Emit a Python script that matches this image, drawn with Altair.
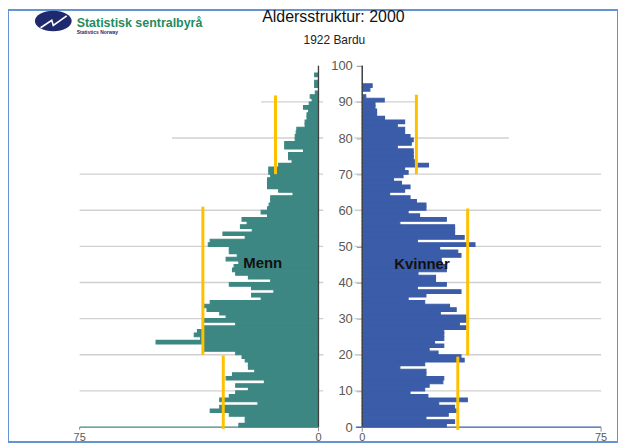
import altair as alt
import pandas as pd

# ---------------- data ----------------
AGES = list(range(100))
MEN = [25, 23, 23, 28, 34, 31, 19, 31, 28, 26,
       22, 26, 17, 29, 27, 20, 22, 22, 23, 24,
       26, 36, 36, 51, 37, 39, 38, 36, 26, 36,
       29, 31, 35, 36, 34, 18, 21, 14, 21, 28,
       15, 22, 26, 27, 26.5, 25, 29, 25.5, 28, 28,
       34.6, 34, 23, 30, 20.8, 24.5, 22.4, 24, 16, 18,
       16, 15.5, 15, 15, 8, 12.5, 16, 16, 16, 15,
       15.6, 15.6, 12.5, 8.3, 9.4, 9.4, 4.7, 10.6, 10.6, 7.3,
       7.3, 7, 6.8, 4.2, 4.2, 3.6, 3.6, 3.1, 4.7, 2.9,
       2, 2.6, 1.0, 0, 1.2, 1.2, 0, 1.2, 0, 0]
WOMEN = [26.4, 29, 20, 27, 29.5, 29, 24, 33, 20.6, 15,
         19.6, 21, 25.3, 25.6, 20, 20, 11.8, 19.6, 32, 31,
         23.8, 21, 25.6, 22.7, 25.6, 25.6, 25.6, 32.6, 30.5, 32.6,
         32.6, 24.5, 29.5, 27.4, 19.6, 14.4, 20, 31, 17.3, 26.4,
         23, 23, 17.5, 26.4, 26, 24.8, 24.8, 31, 30, 24.3,
         35.4, 17.3, 32, 29, 29, 29, 11.8, 26.4, 18, 14.4,
         20, 20, 17, 15, 8.6, 13.3, 15, 12.3, 9.8, 12.8,
         14.4, 13.3, 20.8, 16.5, 16, 16, 16, 11, 15.4, 16,
         15, 13.3, 13.3, 11, 13.3, 7, 4.5, 4.5, 4, 4,
         6.9, 1.1, 0, 2.4, 3.1, 0, 0, 0, 0, 0]

GRID_AGES = [10, 20, 30, 40, 50, 60, 70, 80, 90]
GRID_MEN = [75, 75, 75, 75, 75, 75, 75, 46, 18]
GRID_WOMEN = [75, 75, 75, 75, 75, 75, 75, 46, 17.5]

YEL_SIDE = ["Menn", "Menn", "Menn", "Kvinner", "Kvinner", "Kvinner"]
YEL_VALUE = [29.9, 36.3, 13.5, 30.0, 33.1, 17.0]
YEL_FROM = [-0.5, 20, 70, -0.8, 19.8, 70]
YEL_TO = [19.8, 61, 91.8, 19.5, 60.5, 92]

Y_TICKS = list(range(0, 101, 10))
X_END = 75
SIDES = ["Menn", "Kvinner"]
SIDE_LABEL_VALUE = [17.5, 18.75]
SIDE_LABEL_AGE = [45.3, 45.2]

TITLE = "Aldersstruktur: 2000"
SUBTITLE = "1922 Bardu"

# ---------------- layout helpers ----------------
G = 6.875  # half gap between the two panels (data units)
SIGN = {"Menn": -1, "Kvinner": 1}
MEN_COL = "#3d8783"
WOMEN_COL = "#3b5ca8"
YELLOW = "#ffc000"
FONT = "Liberation Sans"

xs = alt.Scale(domain=[-104.375, 87.1875], nice=False, zero=False)
ys = alt.Scale(domain=[-4.13, 115.43], nice=False, zero=False)

YAX = alt.Axis(orient="left", offset=-356, values=Y_TICKS, domain=False, grid=False,
               ticks=True, tickSize=6, tickColor="#8c8c8c", tickWidth=1,
               labelPadding=4, labelFontSize=13, labelColor="#595959",
               labelFont=FONT, title=None)

def X(f):
    return alt.X(f, type="quantitative", scale=xs, axis=None)

def Y(f):
    return alt.Y(f, type="quantitative", scale=ys, axis=YAX)

# bars
rows = []
for a, m, w in zip(AGES, MEN, WOMEN):
    rows.append({"side": "Menn", "age": a, "age2": a + 1, "u0": -G, "u1": -(G + m)})
    rows.append({"side": "Kvinner", "age": a, "age2": a + 1, "u0": G, "u1": G + w})
bars_df = pd.DataFrame(rows)

grid_rows = []
for a, lm, lw in zip(GRID_AGES, GRID_MEN, GRID_WOMEN):
    grid_rows.append({"age": a, "u0": -G + 1.5, "u1": -(G + lm)})
    grid_rows.append({"age": a, "u0": G - 2.5, "u1": G + lw})
grid_df = pd.DataFrame(grid_rows)

yel_df = pd.DataFrame({"side": YEL_SIDE, "v": YEL_VALUE, "a0": YEL_FROM, "a1": YEL_TO})
yel_df["u"] = [SIGN[s] * (G + v) for s, v in zip(yel_df["side"], yel_df["v"])]

center_df = pd.DataFrame({"u": [-G, G], "a0": [0, 0], "a1": [100, 100]})

base_df = pd.DataFrame({"side": SIDES, "u0": [-G, G - 2], "u1": [-(G + X_END), G + X_END], "age": [0, 0]})

tick_df = pd.DataFrame({
    "u": [-(G + X_END), -G, G, G + X_END],
    "lab": [str(X_END), "0", "0", str(X_END)],
    "a0": [0, 0, 0, 0], "a1": [-0.8, -1.2, -1.3, -1.3], "al": [-3.1] * 4})

lab_df = pd.DataFrame({"side": SIDES,
                       "u": [SIGN[s] * (G + v) for s, v in zip(SIDES, SIDE_LABEL_VALUE)],
                       "age": SIDE_LABEL_AGE})

# ---------------- layers ----------------
side_scale = alt.Scale(domain=SIDES, range=[MEN_COL, WOMEN_COL])

grid = alt.Chart(grid_df).mark_rule(color="#d0d0d0", strokeWidth=1.4).encode(
    x=X("u0"), x2="u1", y=Y("age"))

bars = alt.Chart(bars_df).mark_rect(strokeWidth=1.1).encode(
    x=X("u0"), x2="u1", y=Y("age"), y2="age2",
    color=alt.Color("side:N", scale=side_scale, legend=None),
    stroke=alt.Stroke("side:N", scale=side_scale, legend=None))

center = alt.Chart(center_df).mark_rule(color="#404040", strokeWidth=1.3).encode(
    x=X("u"), y=Y("a0"), y2="a1")

base = alt.Chart(base_df).mark_rule(strokeWidth=1.3).encode(
    x=X("u0"), x2="u1", y=Y("age"),
    stroke=alt.Stroke("side:N", scale=alt.Scale(domain=SIDES, range=["#8cc98c", "#8c8c8c"]), legend=None))

ticks = alt.Chart(tick_df).mark_rule(color="#8c8c8c", strokeWidth=1).encode(
    x=X("u"), y=Y("a0"), y2="a1")

tick_labels = alt.Chart(tick_df).mark_text(font=FONT, fontSize=11, color="#595959", baseline="middle").encode(
    x=X("u"), y=Y("al"), text="lab:N")

yellow = alt.Chart(yel_df).mark_rule(color=YELLOW, strokeWidth=3).encode(
    x=X("u"), y=Y("a0"), y2="a1")

side_labels = alt.Chart(lab_df).mark_text(font=FONT, fontSize=15, fontWeight="bold", color="#111111",
                                          baseline="middle").encode(
    x=X("u"), y=Y("age"), text="side:N")

one = pd.DataFrame({"t": [TITLE]})
title = alt.Chart(one).mark_text(font=FONT, fontSize=16, color="#111111", baseline="middle").encode(
    x=alt.value(327), y=alt.value(7), text=alt.value(TITLE))
subtitle = alt.Chart(one).mark_text(font=FONT, fontSize=12, color="#222222", baseline="middle").encode(
    x=alt.value(328), y=alt.value(30), text=alt.value(SUBTITLE))

ellipse = alt.Chart(one).mark_point(
    shape="M-1,0 A1,0.56 0 1,1 1,0 A1,0.56 0 1,1 -1,0 Z", filled=True, color="#1f2a6e",
    size=1369, opacity=1).encode(x=alt.value(45.5), y=alt.value(11))
zigzag = alt.Chart(one).mark_point(
    shape="M-0.85,0.45 L-0.1,-0.05 L0.0,0.3 L0.9,-0.35", filled=False, color="white",
    strokeWidth=1.6, size=900, opacity=1).encode(x=alt.value(45.5), y=alt.value(11))
logo_text = alt.Chart(one).mark_text(font=FONT, fontSize=12.5, fontWeight="bold", color="#1f8c5e",
                                     align="left", baseline="alphabetic").encode(
    x=alt.value(69), y=alt.value(17), text=alt.value("Statistisk sentralbyrå"))
logo_sub = alt.Chart(one).mark_text(font=FONT, fontSize=5, fontWeight="bold", color="#1f2a6e",
                                    align="left", baseline="alphabetic").encode(
    x=alt.value(69), y=alt.value(24.5), text=alt.value("Statistics Norway"))

chart = alt.layer(
    grid, bars, center, base, ticks, tick_labels, yellow, side_labels,
    title, subtitle, ellipse, zigzag, logo_text, logo_sub
).properties(width=613, height=434, padding={"left": 0, "top": 0, "right": 0, "bottom": 0}
).configure_view(stroke="#6593d3", strokeWidth=2)

chart.save("out.html", embed_options={"renderer": "svg", "actions": False})
